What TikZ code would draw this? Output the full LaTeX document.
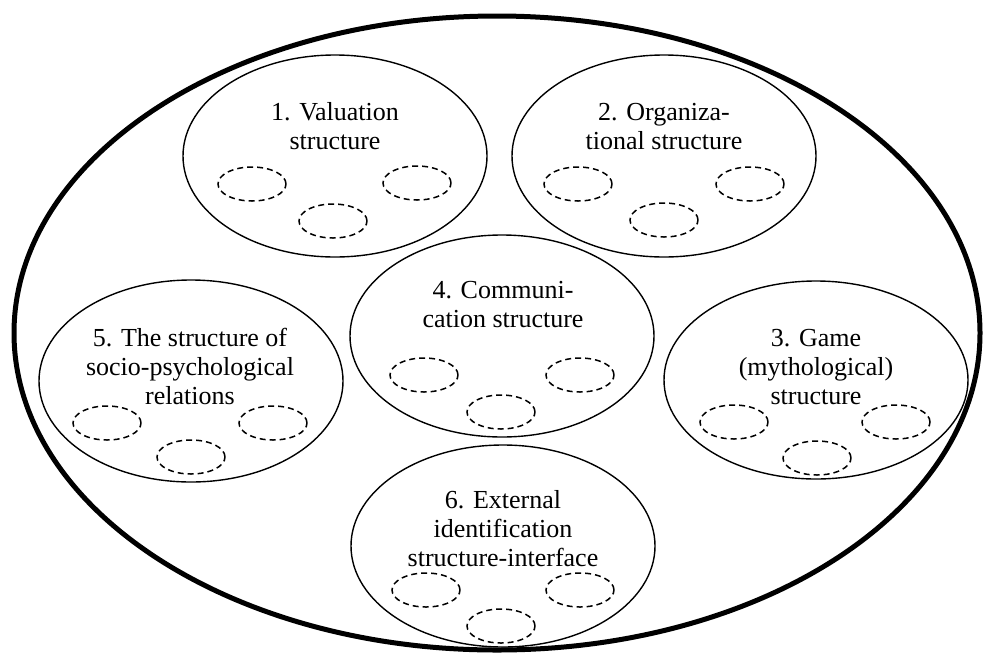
\documentclass[tikz,border=0pt]{standalone}
\usepackage{fontspec}
\setmainfont{Liberation Serif}
\usetikzlibrary{shapes.geometric}
\tikzset{
  outerell/.style={draw, ellipse, line width=5pt, inner sep=0pt, minimum width=966pt, minimum height=634pt},
  groupell/.style={draw, ellipse, line width=1.4pt, inner sep=0pt, minimum width=304pt, minimum height=202pt},
  subell/.style={draw, ellipse, line width=1.5pt, dash pattern=on 6pt off 4pt, inner sep=0pt, minimum width=68pt, minimum height=34pt},
  lbl/.style={align=center, inner sep=0pt, anchor=north, font=\fontsize{26}{29}\selectfont}
}
\newcommand{\fl}{\rule{0pt}{19pt}}
\begin{document}
\begin{tikzpicture}[x=1pt, y=-1pt]
\useasboundingbox (0,0) rectangle (984,654);
\node[outerell] (all) at (497,333) {};
% group ellipses
\node[groupell] (g1) at (335,156) {};
\node[groupell] (g2) at (664,156) {};
\node[groupell] (g4) at (502,336) {};
\node[groupell] (g5) at (191,381) {};
\node[groupell, minimum height=198pt] (g3) at (816,380) {};
\node[groupell] (g6) at (503,546) {};
% labels
\node[lbl] (t1) at (335,101) {\fl 1. Valuation\\structure};
\node[lbl] (t2) at (664,101) {\fl 2. Organiza-\\tional structure};
\node[lbl] (t4) at (503,279) {\fl 4. Communi-\\cation structure};
\node[lbl] (t5) at (190,327) {\fl 5. The structure of\\socio-psychological\\relations};
\node[lbl] (t3) at (816,327) {\fl 3. Game\\(mythological)\\structure};
\node[lbl] (t6) at (503,489) {\fl 6. External\\identification\\structure-interface};
% dashed sub-ellipses
\node[subell] (s1a) at (252,184) {};
\node[subell] (s1b) at (333,221) {};
\node[subell] (s1c) at (417,183) {};
\node[subell] (s2a) at (578,184) {};
\node[subell] (s2b) at (664,220) {};
\node[subell] (s2c) at (750,184) {};
\node[subell] (s4a) at (424,375) {};
\node[subell] (s4b) at (501,412) {};
\node[subell] (s4c) at (580,375) {};
\node[subell] (s5a) at (107,423) {};
\node[subell] (s5b) at (191,457) {};
\node[subell] (s5c) at (273,423) {};
\node[subell] (s3a) at (734,422) {};
\node[subell] (s3b) at (817,458) {};
\node[subell] (s3c) at (896,422) {};
\node[subell] (s6a) at (426,590) {};
\node[subell] (s6b) at (501,626) {};
\node[subell] (s6c) at (580,590) {};
\end{tikzpicture}
\end{document}
